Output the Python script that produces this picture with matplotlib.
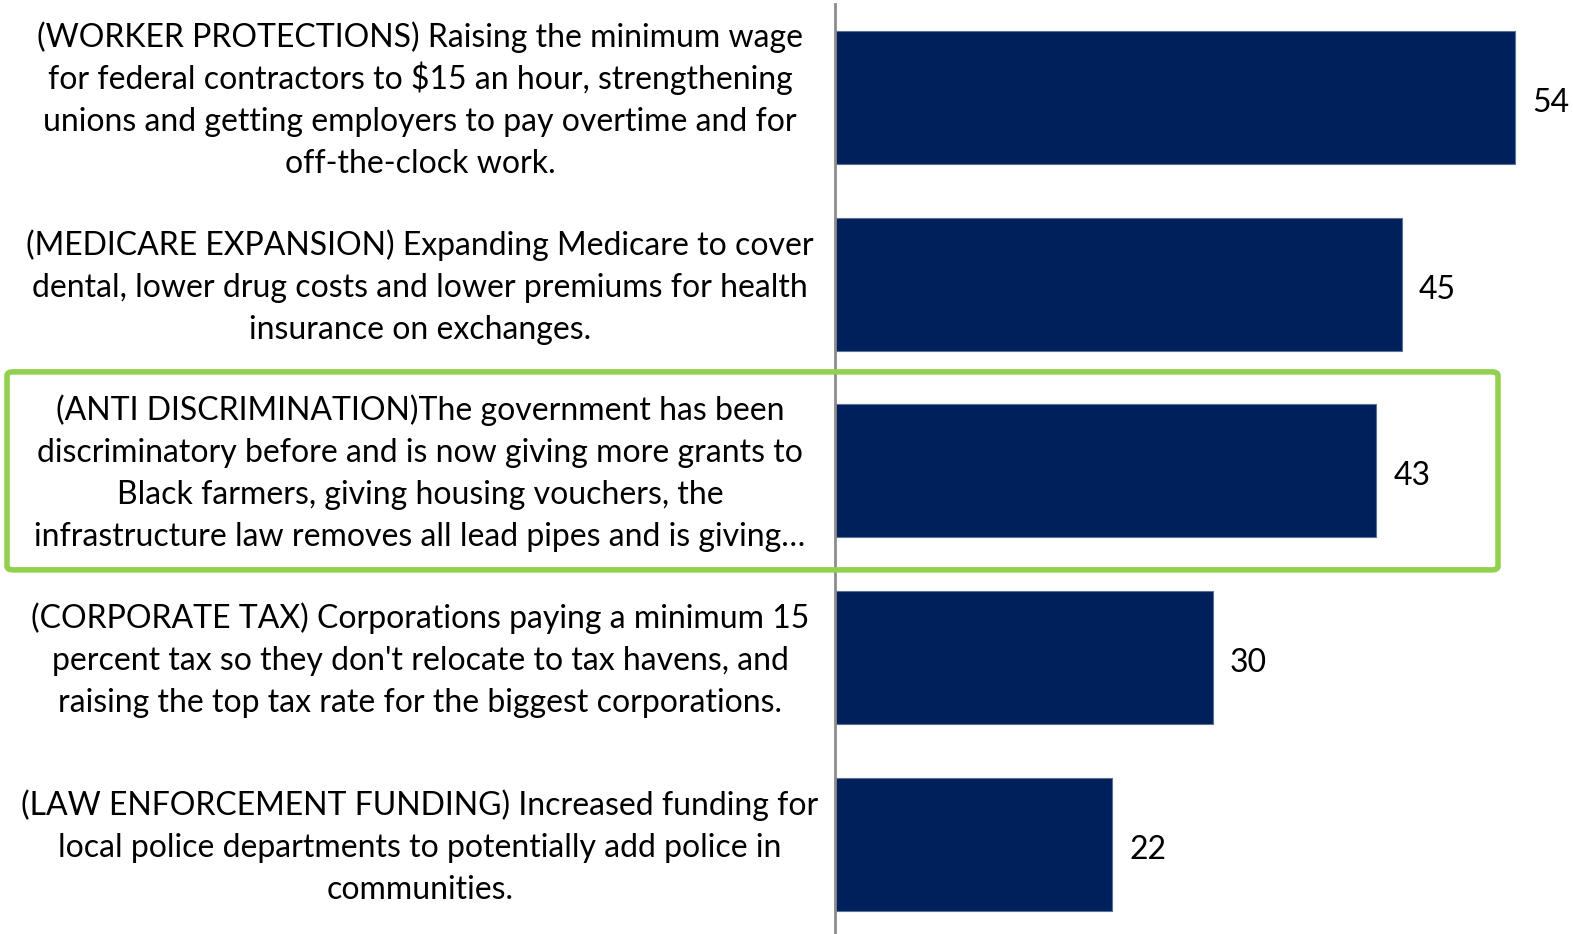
import matplotlib
matplotlib.use("Agg")
import matplotlib.pyplot as plt
from matplotlib.patches import FancyBboxPatch
from matplotlib.transforms import offset_copy

plt.rcParams['font.family'] = ['Lato', 'DejaVu Sans']

categories = [
    "(WORKER PROTECTIONS) Raising the minimum wage\nfor federal contractors to $15 an hour, strengthening\nunions and getting employers to pay overtime and for\noff-the-clock work.",
    "(MEDICARE EXPANSION) Expanding Medicare to cover\ndental, lower drug costs and lower premiums for health\ninsurance on exchanges.",
    "(ANTI DISCRIMINATION)The government has been\ndiscriminatory before and is now giving more grants to\nBlack farmers, giving housing vouchers, the\ninfrastructure law removes all lead pipes and is giving\u2026",
    "(CORPORATE TAX) Corporations paying a minimum 15\npercent tax so they don't relocate to tax havens, and\nraising the top tax rate for the biggest corporations.",
    "(LAW ENFORCEMENT FUNDING) Increased funding for\nlocal police departments to potentially add police in\ncommunities.",
]
values = [54, 45, 43, 30, 22]
highlight_index = 2

W, H = 1573, 934
fig = plt.figure(figsize=(W / 100, H / 100), dpi=100)
axis_x = 835
top_px = 4
row_px = 186.75
ax_left = axis_x / W
ax = fig.add_axes([ax_left, 0.0, 1 - ax_left, (H - top_px) / H])
px_per_unit = (1515 - axis_x) / 54
ax.set_xlim(0, (W - axis_x) / px_per_unit)
ax.set_ylim(-0.5 + (H - top_px) / row_px, -0.5)

ypos = list(range(len(values)))
ax.barh(ypos, values, height=133 / row_px, color='#00205C', edgecolor='#5a6f9a', linewidth=0.8)
val_tr = offset_copy(ax.transData, fig=fig, x=0, y=-14.5 * 72 / 100, units='points')
for y, v in zip(ypos, values):
    ax.text(v + 17 / px_per_unit, y, str(v), va='baseline', ha='left', fontsize=23,
            color='black', transform=val_tr)

for s in ['top', 'right', 'bottom']:
    ax.spines[s].set_visible(False)
ax.spines['left'].set_color('#8c8c8c')
ax.spines['left'].set_linewidth(2)
ax.set_xticks([])
ax.set_yticks([])

# category labels, one text per line with uniform spacing
line_px = 42
for y, lab in zip(ypos, categories):
    cy = ax.transData.transform((0, y))[1]
    lines = lab.split("\n")
    n = len(lines)
    for i, ln in enumerate(lines):
        mid = cy - (i - (n - 1) / 2) * line_px
        fig.text(420 / W, (mid - 12.5) / H, ln, ha='center', va='baseline',
                 fontsize=23, color='black')

# highlight box
cy = ax.transData.transform((0, highlight_index))[1]
box_h = 198
x0, x1 = 7, 1498
rect = FancyBboxPatch((x0 / W, (cy - box_h / 2) / H), (x1 - x0) / W, box_h / H,
                      boxstyle="round,pad=0,rounding_size=0.004",
                      transform=fig.transFigure, fill=False,
                      edgecolor='#92D050', linewidth=4, zorder=10)
fig.patches.append(rect)

fig.savefig('out.png', dpi=100)
